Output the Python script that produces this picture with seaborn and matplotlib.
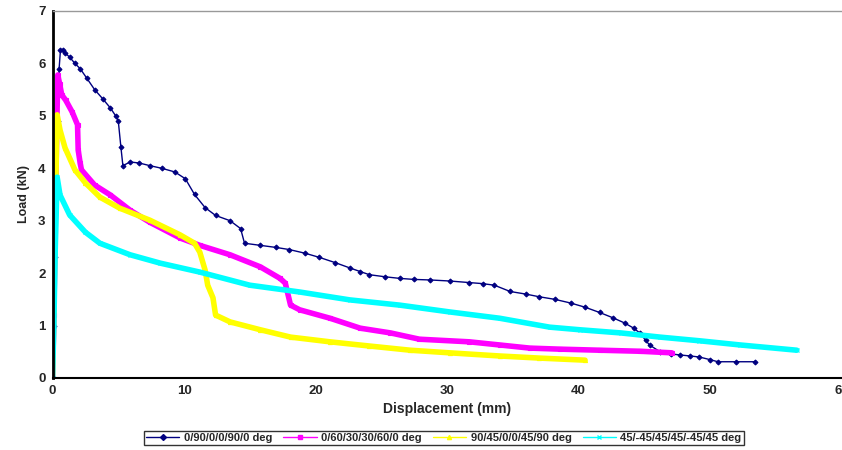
import matplotlib
matplotlib.use("Agg")
import matplotlib.pyplot as plt
import seaborn as sns
import pandas as pd

labels = ["0/90/0/0/90/0 deg", "0/60/30/30/60/0 deg", "90/45/0/0/45/90 deg", "45/-45/45/45/-45/45 deg"]
colors = ["#000080", "#FF00FF", "#FFFF00", "#00FFFF"]

blue_x = [0, 0.1, 0.2, 0.3, 0.4, 0.5, 0.6, 0.8, 0.95, 1.3, 1.7, 2.1, 2.6, 3.2, 3.8, 4.4, 4.8, 5.0, 5.2, 5.2, 5.35, 5.9, 6.6, 7.4, 8.3, 9.3, 10.1, 10.8, 11.6, 12.4, 13.5, 14.3, 14.6, 15.8, 17.0, 18.0, 19.2, 20.3, 21.5, 22.6, 23.4, 24.1, 25.3, 26.4, 27.5, 28.7, 30.2, 31.7, 32.7, 33.6, 34.8, 36.0, 37.0, 38.2, 39.4, 40.5, 41.6, 42.6, 43.5, 44.2, 44.7, 45.1, 45.4, 46.2, 47.0, 47.7, 48.5, 49.2, 50.0, 50.6, 52.0, 53.4]
blue_y = [0, 1.0, 2.3, 3.6, 4.9, 5.9, 6.25, 6.25, 6.2, 6.12, 6.0, 5.9, 5.72, 5.5, 5.33, 5.15, 5.0, 4.9, 4.4, 4.4, 4.05, 4.12, 4.1, 4.05, 4.0, 3.93, 3.8, 3.5, 3.25, 3.1, 3.0, 2.85, 2.57, 2.53, 2.49, 2.45, 2.38, 2.3, 2.2, 2.1, 2.03, 1.97, 1.93, 1.9, 1.88, 1.87, 1.85, 1.82, 1.8, 1.77, 1.65, 1.6, 1.55, 1.5, 1.43, 1.35, 1.25, 1.15, 1.05, 0.95, 0.85, 0.72, 0.63, 0.5, 0.46, 0.44, 0.42, 0.4, 0.35, 0.31, 0.31, 0.31]

mag_x = [0, 0.1, 0.2, 0.3, 0.4, 0.55, 0.7, 1.0, 1.5, 1.9, 1.95, 2.1, 2.2, 3.2, 4.4, 5.9, 7.4, 9.7, 11.2, 13.5, 15.8, 17.3, 17.7, 18.1, 18.8, 21.1, 23.4, 25.7, 27.9, 31.7, 34.0, 36.3, 38.6, 41.6, 44.7, 47.1]
mag_y = [0, 1.2, 2.8, 4.5, 5.78, 5.6, 5.4, 5.3, 5.07, 4.83, 4.35, 4.1, 3.97, 3.68, 3.49, 3.2, 2.97, 2.67, 2.53, 2.35, 2.12, 1.9, 1.81, 1.39, 1.3, 1.14, 0.95, 0.86, 0.74, 0.69, 0.63, 0.57, 0.55, 0.53, 0.51, 0.48]

yel_x = [0, 0.1, 0.2, 0.35, 0.57, 0.95, 1.7, 2.5, 3.6, 5.1, 7.4, 9.7, 10.8, 11.2, 11.6, 11.8, 12.2, 12.4, 13.5, 15.8, 18.1, 21.1, 24.1, 27.2, 30.2, 34.0, 37.0, 40.5]
yel_y = [0, 1.3, 3.0, 5.02, 4.73, 4.39, 3.97, 3.72, 3.45, 3.24, 3.01, 2.73, 2.57, 2.4, 2.06, 1.77, 1.53, 1.2, 1.07, 0.92, 0.78, 0.69, 0.61, 0.53, 0.48, 0.42, 0.38, 0.34]

cyan_x = [0, 0.1, 0.2, 0.35, 0.57, 1.3, 2.5, 3.6, 5.9, 8.2, 11.2, 15.0, 18.8, 22.6, 26.4, 30.2, 34.0, 37.8, 40.1, 43.2, 46.2, 49.2, 52.3, 56.6]
cyan_y = [0, 1.0, 2.4, 3.83, 3.49, 3.11, 2.78, 2.57, 2.35, 2.19, 2.02, 1.77, 1.64, 1.49, 1.39, 1.26, 1.14, 0.97, 0.92, 0.86, 0.78, 0.71, 0.63, 0.53]

xticks = [0, 10, 20, 30, 40, 50, 60]
yticks = [0, 1, 2, 3, 4, 5, 6, 7]

sns.set_theme(style="white")
plt.rcParams["font.family"] = ["Liberation Sans", "DejaVu Sans"]
plt.rcParams["font.weight"] = "bold"

fig = plt.figure(figsize=(8.42, 4.5), dpi=100)
ax = fig.add_axes([0.0624, 0.16, 0.937, 0.8156])

series = [(blue_x, blue_y), (mag_x, mag_y), (yel_x, yel_y), (cyan_x, cyan_y)]
styles = [
    dict(lw=1.0, marker="D", ms=2.5),
    dict(lw=4.0, marker="s", ms=3),
    dict(lw=4.0, marker="^", ms=3),
    dict(lw=4.0, marker="x", ms=3),
]
handles = []
for (xs, ys), lab, col, st in zip(series, labels, colors, styles):
    df = pd.DataFrame({"x": xs, "y": ys})
    sns.lineplot(data=df, x="x", y="y", sort=False, color=col, linewidth=st["lw"],
                 marker=st["marker"], markersize=st["ms"], markeredgecolor=col,
                 markerfacecolor=col, markeredgewidth=0.8, ax=ax, legend=False)
    h, = ax.plot([], [], color=col, lw=1.0, marker=st["marker"], ms=3, mec=col, mfc=col)
    handles.append(h)

ax.set_xlim(0, 60)
ax.set_ylim(0, 7)
ax.set_xticks(xticks)
ax.set_yticks(yticks)
ax.tick_params(axis="both", direction="out", length=3, width=1, color="black", labelsize=9.5, pad=2)
for t in ax.get_xticklabels() + ax.get_yticklabels():
    t.set_fontweight("bold")
ax.set_xlabel("Displacement (mm)", fontsize=10, fontweight="bold", labelpad=4)
ax.set_ylabel("Load (kN)", fontsize=9, fontweight="bold", labelpad=6)

ax.spines["left"].set_color("black")
ax.spines["left"].set_linewidth(2)
ax.spines["bottom"].set_color("black")
ax.spines["bottom"].set_linewidth(1.5)
ax.spines["top"].set_color("#999999")
ax.spines["top"].set_linewidth(1)
ax.spines["right"].set_visible(False)

leg = fig.legend(handles, labels, loc="center", bbox_to_anchor=(0.527, 0.027), ncol=4,
                 frameon=True, fancybox=False, fontsize=8, handlelength=3,
                 columnspacing=1.0, handletextpad=0.4, borderpad=0.2)
leg.get_frame().set_edgecolor("black")
leg.get_frame().set_linewidth(1)
for t in leg.get_texts():
    t.set_fontweight("bold")

fig.savefig("out.png", dpi=100)
